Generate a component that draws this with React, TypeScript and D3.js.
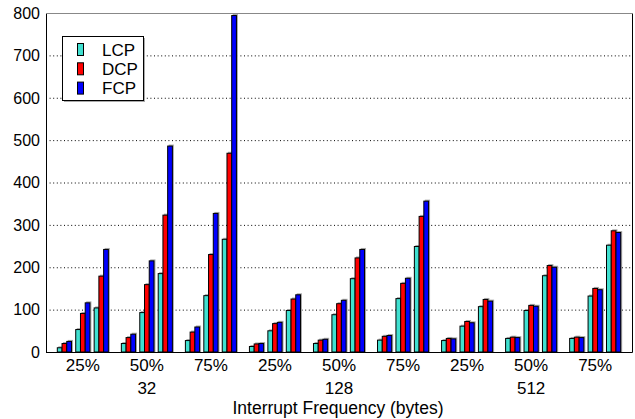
import React, { useEffect, useRef } from "react";
import * as d3 from "d3";

// x categories: interrupt frequency percentage, grouped by size in bytes
const percents = ["25%", "50%", "75%"];
const sizes = ["32", "128", "512"];
const subsets = ["s1", "s2", "s3"];
const seriesNames = ["LCP", "DCP", "FCP"];
const seriesColors = ["#40e0d0", "#ff0000", "#0000ff"];
const yTicks = [0, 100, 200, 300, 400, 500, 600, 700, 800];

// values per group (size x percent), three sub-bars each
const lcpValues = [
  10, 53, 104, 20, 93, 185, 27, 133, 266,
  13, 50, 98, 20, 88, 173, 28, 126, 249,
  27, 61, 107, 32, 98, 180, 32, 132, 252,
];
const dcpValues = [
  20, 91, 179, 34, 159, 323, 47, 230, 469,
  19, 67, 125, 28, 114, 222, 37, 162, 320,
  32, 72, 124, 35, 110, 204, 35, 150, 286,
];
const fcpValues = [
  25, 116, 242, 42, 215, 486, 59, 327, 794,
  20, 70, 135, 30, 122, 242, 39, 174, 356,
  31, 69, 120, 34, 108, 200, 34, 147, 282,
];

const FONT = "'Liberation Sans', Arial, Helvetica, sans-serif";

export default function App() {
  const ref = useRef<SVGSVGElement>(null);

  useEffect(() => {
    const svgWidth = 635, svgHeight = 419;
    const left = 46, right = 632, top = 13, bottom = 352;

    const groups: string[] = [];
    sizes.forEach(s => percents.forEach(p => groups.push(s + "|" + p)));

    const allSeries = [lcpValues, dcpValues, fcpValues];
    const bars: { group: string; sub: string; series: string; value: number; color: string }[] = [];
    groups.forEach((g, gi) => {
      subsets.forEach((sub, si) => {
        seriesNames.forEach((name, k) => {
          bars.push({ group: g, sub, series: name, value: allSeries[k][gi * 3 + si], color: seriesColors[k] });
        });
      });
    });

    const x0 = d3.scaleBand().domain(groups).range([left, right]).paddingInner(0.203).paddingOuter(0.1766);
    const x1 = d3.scaleBand().domain(subsets).range([0, x0.bandwidth()]).paddingInner(0.23);
    const x2 = d3.scaleBand().domain(seriesNames).range([0, x1.bandwidth()]);
    const y = d3.scaleLinear().domain([0, 800]).range([bottom, top]);

    const svg = d3.select(ref.current).attr("width", svgWidth).attr("height", svgHeight);
    svg.selectAll("*").remove();
    svg.append("rect").attr("width", svgWidth).attr("height", svgHeight).attr("fill", "white");

    // grid lines
    svg.append("g").selectAll("line").data(yTicks).join("line")
      .attr("x1", left).attr("x2", right)
      .attr("y1", d => y(d) + 0.5).attr("y2", d => y(d) + 0.5)
      .attr("stroke", "#000").attr("stroke-width", 1)
      .attr("stroke-dasharray", "1,2.6");

    // y tick labels
    svg.append("g").selectAll("text").data(yTicks).join("text")
      .attr("x", 40).attr("y", d => y(d)).attr("dy", "0.36em")
      .attr("text-anchor", "end")
      .style("font-family", FONT).style("font-size", "16px")
      .text(d => d);

    // bars with a soft gray shadow
    const xPos = (d: any) => x0(d.group)! + x1(d.sub)! + x2(d.series)!;
    svg.append("g").selectAll("rect").data(bars).join("rect")
      .attr("x", d => xPos(d) + 1)
      .attr("y", d => y(d.value) - 1.5)
      .attr("width", x2.bandwidth() + 0.5)
      .attr("height", d => bottom - y(d.value) + 1.5)
      .attr("fill", "#a8a8a8");
    svg.append("g").selectAll("rect").data(bars).join("rect")
      .attr("x", d => xPos(d))
      .attr("y", d => y(d.value))
      .attr("width", x2.bandwidth())
      .attr("height", d => bottom - y(d.value))
      .attr("fill", d => d.color)
      .attr("stroke", "#000").attr("stroke-width", 1);

    // frame
    svg.append("path")
      .attr("d", `M${left + 0.5},${top + 0.5}V${bottom + 0.5}H${right + 0.5}V${top + 0.5}`)
      .attr("fill", "none").attr("stroke", "#000").attr("stroke-width", 1);
    svg.append("line").attr("x1", left).attr("x2", right).attr("y1", top + 0.5).attr("y2", top + 0.5)
      .attr("stroke", "#888").attr("stroke-width", 1);

    // x labels
    svg.append("g").selectAll("text").data(groups).join("text")
      .attr("x", d => x0(d)! + x0.bandwidth() / 2).attr("y", 371)
      .attr("text-anchor", "middle")
      .style("font-family", FONT).style("font-size", "17px")
      .text(d => d.split("|")[1]);
    svg.append("g").selectAll("text").data(sizes).join("text")
      .attr("x", d => x0(d + "|50%")! + x0.bandwidth() / 2).attr("y", 394)
      .attr("text-anchor", "middle")
      .style("font-family", FONT).style("font-size", "17px")
      .text(d => d);
    svg.append("text")
      .attr("x", 338).attr("y", 414)
      .attr("text-anchor", "middle")
      .style("font-family", FONT).style("font-size", "17.5px")
      .text("Interrupt Frequency (bytes)");

    // legend
    const legend = svg.append("g");
    legend.append("rect").attr("x", 64).attr("y", 38).attr("width", 81).attr("height", 64).attr("fill", "#aaa");
    legend.append("rect").attr("x", 62.5).attr("y", 36.5).attr("width", 81).attr("height", 64)
      .attr("fill", "white").attr("stroke", "#000");
    seriesNames.forEach((name, i) => {
      legend.append("rect").attr("x", 77.5).attr("y", 43.5 + i * 19.3).attr("width", 6).attr("height", 12)
        .attr("fill", seriesColors[i]).attr("stroke", "#000");
      legend.append("text").attr("x", 102).attr("y", 55.7 + i * 19.3)
        .style("font-family", FONT).style("font-size", "17px")
        .text(name);
    });
  }, []);

  return <svg ref={ref} style={{ display: "block", position: "absolute", left: 0, top: 0 }} />;
}
